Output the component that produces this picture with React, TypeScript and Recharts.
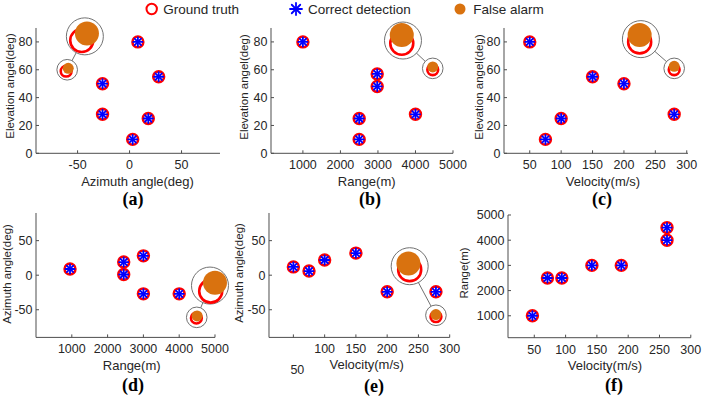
import React from 'react';
import { ScatterChart, Scatter, XAxis, YAxis } from 'recharts';

type Pt = [number, number];

// tick values
const elevationTicks = [0, 20, 40, 60, 80];
const azimuthTicks = [-50, 0, 50];
const rangeTicks = [1000, 2000, 3000, 4000, 5000];
const velocityTicks = [50, 100, 150, 200, 250, 300];

// (a) elevation vs azimuth
const aTruth: Pt[] = [[8, 80], [28, 55], [-26, 50], [-26, 28], [18, 25], [3, 10], [-61, 59]];
const aDetect: Pt[] = [[8, 80], [28, 55], [-26, 50], [-26, 28], [18, 25], [3, 10]];
const aFalse: Pt[] = [[-59, 61]];
const aLens: Pt[] = [[-60, 60], [-43, 84]];
const aLensTruth: Pt[] = [[-46, 81]];
const aLensFalse: Pt[] = [[-41, 86]];

// (b) elevation vs range
const bTruth: Pt[] = [[1000, 80], [2500, 25], [2500, 10], [2980, 57], [2980, 48], [4000, 28], [4460, 60]];
const bDetect: Pt[] = [[1000, 80], [2500, 25], [2500, 10], [2980, 57], [2980, 48], [4000, 28]];
const bFalse: Pt[] = [[4460, 62]];
const bLens: Pt[] = [[4460, 61], [3667, 81]];
const bLensTruth: Pt[] = [[3635, 79]];
const bLensFalse: Pt[] = [[3635, 85]];

// (c) elevation vs velocity
const cTruth: Pt[] = [[50, 80], [75, 10], [100, 25], [150, 55], [200, 50], [280, 28], [280, 60]];
const cDetect: Pt[] = [[50, 80], [75, 10], [100, 25], [150, 55], [200, 50], [280, 28]];
const cFalse: Pt[] = [[280, 62.5]];
const cLens: Pt[] = [[280, 61], [227, 82]];
const cLensTruth: Pt[] = [[225, 80]];
const cLensFalse: Pt[] = [[225, 85]];

// (d) azimuth vs range
const dTruth: Pt[] = [[950, 9], [2450, 19], [2450, 1], [3000, 28], [3000, -27], [4000, -27], [4480, -62]];
const dDetect: Pt[] = [[950, 9], [2450, 19], [2450, 1], [3000, 28], [3000, -27], [4000, -27]];
const dFalse: Pt[] = [[4500, -59]];
const dLens: Pt[] = [[4490, -61], [4860, -15]];
const dLensTruth: Pt[] = [[4880, -23]];
const dLensFalse: Pt[] = [[5000, -11]];

// (e) azimuth vs velocity
const eTruth: Pt[] = [[50, 12], [75, 6], [100, 22], [150, 32], [200, -24], [278, -24], [278, -60]];
const eDetect: Pt[] = [[50, 12], [75, 6], [100, 22], [150, 32], [200, -24], [278, -24]];
const eFalse: Pt[] = [[278, -57]];
const eLens: Pt[] = [[278, -58], [236, 13]];
const eLensTruth: Pt[] = [[236, 8]];
const eLensFalse: Pt[] = [[234, 17]];

// (f) range vs velocity
const fTruth: Pt[] = [[47, 1000], [71, 2500], [94, 2500], [142, 3000], [189, 3000], [262, 4000], [262, 4500]];
const fDetect: Pt[] = [[47, 1000], [71, 2500], [94, 2500], [142, 3000], [189, 3000], [262, 4000], [262, 4500]];

const RED = '#ff0000';
const BLUE = '#0000ff';
const ORANGE = '#d9720f';
const GRAY = '#707070';
const AXIS = '#4d4d4d';
const TXT = '#262626';
const FONT = '"Liberation Sans", Arial, Helvetica, sans-serif';

const Ring = ({ cx, cy }: any) => (
  <circle cx={cx} cy={cy} r={5.4} fill="#fff" stroke={RED} strokeWidth={2.6} />
);

const Star = ({ cx, cy, r = 4.6 }: any) => {
  const d = r * 0.7071;
  return (
    <g stroke={BLUE} strokeWidth={1.8} strokeLinecap="round">
      <line x1={cx - r} y1={cy} x2={cx + r} y2={cy} />
      <line x1={cx} y1={cy - r} x2={cx} y2={cy + r} />
      <line x1={cx - d} y1={cy - d} x2={cx + d} y2={cy + d} />
      <line x1={cx - d} y1={cy + d} x2={cx + d} y2={cy - d} />
    </g>
  );
};

const Dot = ({ cx, cy }: any) => <circle cx={cx} cy={cy} r={5.5} fill={ORANGE} />;
const Nothing = () => <g />;
const LensSmall = ({ cx, cy }: any) => <circle cx={cx} cy={cy} r={10.3} fill="#fff" stroke={GRAY} strokeWidth={1} />;
const LensBig = ({ cx, cy }: any) => <circle cx={cx} cy={cy} r={18.5} fill="#fff" stroke={GRAY} strokeWidth={1} />;
const BigRing = ({ cx, cy }: any) => <circle cx={cx} cy={cy} r={11.5} fill="none" stroke={RED} strokeWidth={2.6} />;
const BigDot = ({ cx, cy }: any) => <circle cx={cx} cy={cy} r={12} fill={ORANGE} />;

interface PanelCfg {
  box: [number, number, number, number];
  xDomain: [number, number];
  yDomain: [number, number];
  xTicks: number[];
  yTicks: number[];
  truth: Pt[];
  detect: Pt[];
  fa: Pt[];
  lens: Pt[];
  lensTruth: Pt[];
  lensFalse: Pt[];
  xTitle: string;
  yTitle: string;
  xTitleAt: [number, number];
  yTitleAt: [number, number];
  tag: string;
  tagAt: [number, number];
  lowTick?: number;
}

const panels: PanelCfg[] = [
  {
    box: [36, 28, 220, 153.3], xDomain: [-90, 87], yDomain: [0, 90], xTicks: azimuthTicks, yTicks: elevationTicks,
    truth: aTruth, detect: aDetect, fa: aFalse, lens: aLens, lensTruth: aLensTruth, lensFalse: aLensFalse,
    xTitle: 'Azimuth angle(deg)', yTitle: 'Elevation angel(deg)', xTitleAt: [137.5, 180.5], yTitleAt: [11, 86],
    tag: '(a)', tagAt: [133, 199],
  },
  {
    box: [270.7, 28, 452.7, 153.3], xDomain: [150, 5000], yDomain: [0, 90], xTicks: rangeTicks, yTicks: elevationTicks,
    truth: bTruth, detect: bDetect, fa: bFalse, lens: bLens, lensTruth: bLensTruth, lensFalse: bLensFalse,
    xTitle: 'Range(m)', yTitle: 'Elevation angel(deg)', xTitleAt: [366.7, 180.5], yTitleAt: [245, 87],
    tag: '(b)', tagAt: [370, 199],
  },
  {
    box: [504.3, 28, 688.3, 153.3], xDomain: [9, 302], yDomain: [0, 90], xTicks: velocityTicks, yTicks: elevationTicks,
    truth: cTruth, detect: cDetect, fa: cFalse, lens: cLens, lensTruth: cLensTruth, lensFalse: cLensFalse,
    xTitle: 'Velocity(m/s)', yTitle: 'Elevation angel(deg)', xTitleAt: [603, 180.5], yTitleAt: [480, 87],
    tag: '(c)', tagAt: [602, 199],
  },
  {
    box: [36, 213.3, 215, 337.7], xDomain: [0, 5000], yDomain: [-90, 90], xTicks: rangeTicks, yTicks: azimuthTicks,
    truth: dTruth, detect: dDetect, fa: dFalse, lens: dLens, lensTruth: dLensTruth, lensFalse: dLensFalse,
    xTitle: 'Range(m)', yTitle: 'Azimuth angle(deg)', xTitleAt: [131.7, 364.5], yTitleAt: [7.5, 274],
    tag: '(d)', tagAt: [133, 385],
  },
  {
    box: [269.3, 213.3, 450, 337.7], xDomain: [11, 300], yDomain: [-90, 90], xTicks: velocityTicks, yTicks: azimuthTicks,
    truth: eTruth, detect: eDetect, fa: eFalse, lens: eLens, lensTruth: eLensTruth, lensFalse: eLensFalse,
    xTitle: 'Velocity(m/s)', yTitle: 'Azimuth angle(deg)', xTitleAt: [366.7, 364], yTitleAt: [240, 273],
    tag: '(e)', tagAt: [374, 386], lowTick: 50,
  },
  {
    box: [507.7, 215, 690.5, 337.7], xDomain: [8, 300], yDomain: [130, 5000], xTicks: velocityTicks, yTicks: rangeTicks,
    truth: fTruth, detect: fDetect, fa: [], lens: [], lensTruth: [], lensFalse: [],
    xTitle: 'Velocity(m/s)', yTitle: 'Range(m)', xTitleAt: [605, 365], yTitleAt: [465, 273],
    tag: '(f)', tagAt: [614, 385],
  },
];

const YW = 40;
const MT = 22;
const MR = 30;
const XH = 40;

const pts = (a: Pt[]) => a.map(([x, y]) => ({ x, y }));

const XTick = ({ x, y, payload, low }: any) => {
  const down = low !== undefined && payload.value === low;
  return (
    <text x={x + (down ? 4 : 0)} y={y + (down ? 21 : 0)} dy="0.71em" textAnchor="middle" fontSize={12.5} fill={TXT}>
      {payload.value}
    </text>
  );
};

function Panel({ p }: { p: PanelCfg }) {
  const [x0, y0, x1, y1] = p.box;
  const w = x1 - x0 + YW + MR;
  const h = y1 - y0 + MT + XH;
  return (
    <div style={{ position: 'absolute', left: x0 - YW, top: y0 - MT }}>
      <ScatterChart width={w} height={h} margin={{ top: MT, right: MR, bottom: 0, left: 0 }}>
        <XAxis
          type="number"
          dataKey="x"
          domain={p.xDomain}
          ticks={p.xTicks}
          interval={0}
          height={XH}
          axisLine={{ stroke: AXIS }}
          tickLine={{ stroke: AXIS }}
          tickSize={-3}
          tickMargin={10.2}
          tick={(props: any) => <XTick {...props} low={p.lowTick} />}
        />
        <YAxis
          type="number"
          dataKey="y"
          domain={p.yDomain}
          ticks={p.yTicks}
          interval={0}
          width={YW}
          axisLine={{ stroke: AXIS }}
          tickLine={{ stroke: AXIS }}
          tickSize={-3}
          tickMargin={6.5}
          tick={{ fontSize: 12.5, fill: TXT }}
        />
        <Scatter data={pts(p.lens)} line={{ stroke: GRAY, strokeWidth: 1 }} shape={Nothing} isAnimationActive={false} />
        <Scatter data={pts(p.lens.slice(0, 1))} shape={LensSmall} isAnimationActive={false} />
        <Scatter data={pts(p.lens.slice(1))} shape={LensBig} isAnimationActive={false} />
        <Scatter data={pts(p.lensTruth)} shape={BigRing} isAnimationActive={false} />
        <Scatter data={pts(p.lensFalse)} shape={BigDot} isAnimationActive={false} />
        <Scatter data={pts(p.truth)} shape={Ring} isAnimationActive={false} />
        <Scatter data={pts(p.fa)} shape={Dot} isAnimationActive={false} />
        <Scatter data={pts(p.detect)} shape={Star} isAnimationActive={false} />
      </ScatterChart>
    </div>
  );
}

const centered = (x: number, y: number): React.CSSProperties => ({
  position: 'absolute',
  left: x,
  top: y,
  transform: 'translate(-50%, -50%)',
  whiteSpace: 'nowrap',
  lineHeight: 1,
});

export default function App() {
  return (
    <div style={{ position: 'absolute', left: 0, top: 0, width: 706, height: 398, background: '#fff', fontFamily: FONT, color: TXT }}>
      {panels.map((p, i) => (
        <Panel key={i} p={p} />
      ))}
      {panels.map((p, i) => (
        <React.Fragment key={'t' + i}>
          <div style={{ ...centered(p.xTitleAt[0], p.xTitleAt[1]), fontSize: 13 }}>{p.xTitle}</div>
          <div style={{ ...centered(p.yTitleAt[0], p.yTitleAt[1]), transform: 'translate(-50%, -50%) rotate(-90deg)', fontSize: 11.5 }}>
            {p.yTitle}
          </div>
          <div style={{ ...centered(p.tagAt[0], p.tagAt[1]), fontFamily: '"Liberation Serif", "Times New Roman", serif', fontWeight: 'bold', fontSize: 18, color: '#000' }}>
            {p.tag}
          </div>
        </React.Fragment>
      ))}
      <svg width={706} height={20} style={{ position: 'absolute', left: 0, top: 0 }}>
        <circle cx={151.7} cy={9} r={5.2} fill="#fff" stroke={RED} strokeWidth={2} />
        <text x={163.3} y={9} dy="0.36em" fontSize={13.5} fill={TXT}>Ground truth</text>
        <Star cx={296} cy={9} r={6} />
        <text x={308} y={9} dy="0.36em" fontSize={13.5} fill={TXT}>Correct detection</text>
        <circle cx={460} cy={9} r={5.5} fill={ORANGE} />
        <text x={473.3} y={9} dy="0.36em" fontSize={13.5} fill={TXT}>False alarm</text>
      </svg>
    </div>
  );
}
